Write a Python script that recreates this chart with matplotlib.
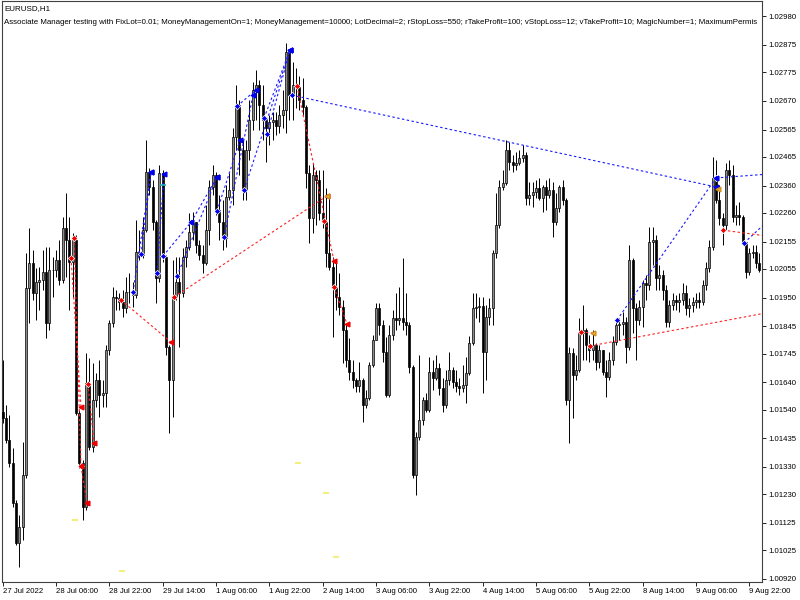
import matplotlib
matplotlib.use("Agg")
import matplotlib.pyplot as plt
import numpy as np

plt.rcParams['font.family'] = ['Liberation Sans', 'DejaVu Sans']

# EURUSD H1 candles, 27 Jul 14:00 .. 10 Aug 2022 (one value per hourly bar)
first_open = 1.01531
close = [
    1.01509, 1.01429, 1.01344, 1.01198, 1.01052, 1.01110, 1.01300, 1.01985, 1.02076, 1.01967,
    1.02007, 1.02014, 1.02043, 1.01857, 1.02051, 1.02051, 1.02087, 1.02014, 1.02205, 1.02161,
    1.02080, 1.02161, 1.01527, 1.01344, 1.01183, 1.01637, 1.01403, 1.01575, 1.01648, 1.01593,
    1.01601, 1.01758, 1.01857, 1.01952, 1.01948, 1.01934, 1.01912, 1.01970, 1.01970, 1.01959,
    1.02117, 1.02106, 1.02197, 1.02409, 1.02355, 1.02226, 1.02022, 1.02406, 1.02098, 1.01769,
    1.01648, 1.01952, 1.02007, 1.01967, 1.02098, 1.02135, 1.02190, 1.02226, 1.02142, 1.02106,
    1.02076, 1.02197, 1.02355, 1.02398, 1.02270, 1.02226, 1.02168, 1.02318, 1.02344, 1.02538,
    1.02655, 1.02490, 1.02344, 1.02490, 1.02600, 1.02710, 1.02728, 1.02655, 1.02600, 1.02571,
    1.02592, 1.02600, 1.02578, 1.02618, 1.02636, 1.02849, 1.02691, 1.02728, 1.02721, 1.02673,
    1.02647, 1.02406, 1.02241, 1.02398, 1.02380, 1.02259, 1.02226, 1.02113, 1.02062, 1.01989,
    1.01952, 1.01915, 1.01831, 1.01721, 1.01677, 1.01648, 1.01626, 1.01648, 1.01557, 1.01582,
    1.01703, 1.01795, 1.01912, 1.01849, 1.01751, 1.01593, 1.01813, 1.01875, 1.01868, 1.01875,
    1.01860, 1.01849, 1.01696, 1.01300, 1.01440, 1.01502, 1.01575, 1.01538, 1.01677, 1.01656,
    1.01692, 1.01619, 1.01557, 1.01648, 1.01685, 1.01641, 1.01626, 1.01619, 1.01630, 1.01674,
    1.01784, 1.01912, 1.01915, 1.01919, 1.01751, 1.01879, 1.01912, 1.02113, 1.02215, 1.02355,
    1.02369, 1.02490, 1.02446, 1.02435, 1.02442, 1.02461, 1.02472, 1.02314, 1.02325, 1.02336,
    1.02351, 1.02314, 1.02355, 1.02325, 1.02344, 1.02226, 1.02278, 1.02355, 1.02307, 1.01575,
    1.01747, 1.01666, 1.01685, 1.01820, 1.01831, 1.01776, 1.01758, 1.01776, 1.01714, 1.01758,
    1.01677, 1.01659, 1.01721, 1.01787, 1.01849, 1.01853, 1.01860, 1.01769, 1.02087, 1.01912,
    1.01868, 1.01915, 1.02003, 1.01996, 1.02153, 1.02161, 1.02022, 1.02032, 1.01978, 1.01860,
    1.01923, 1.01941, 1.01934, 1.01941, 1.01967, 1.01912, 1.01923, 1.01934, 1.01941, 1.01934,
    1.01996, 1.02058, 1.02135, 1.02388, 1.02307, 1.02241, 1.02215, 1.02417, 1.02398, 1.02245,
    1.02252, 1.02245, 1.02153, 1.02043, 1.02113, 1.02117, 1.02076, 1.02051,
]
high = [
    1.01721, 1.01557, 1.01520, 1.01399, 1.01209, 1.01154, 1.01421, 1.02113, 1.02205, 1.02124,
    1.02058, 1.02062, 1.02124, 1.02135, 1.02135, 1.02098, 1.02124, 1.02161, 1.02245, 1.02333,
    1.02245, 1.02186, 1.02179, 1.01538, 1.01355, 1.01747, 1.01729, 1.01710, 1.01674, 1.01721,
    1.01648, 1.01776, 1.01868, 1.01989, 1.01978, 1.01967, 1.01978, 1.02025, 1.02040, 1.02007,
    1.02234, 1.02197, 1.02245, 1.02527, 1.02424, 1.02380, 1.02234, 1.02435, 1.02417, 1.02106,
    1.01776, 1.02087, 1.02098, 1.02098, 1.02131, 1.02161, 1.02259, 1.02263, 1.02215, 1.02161,
    1.02142, 1.02289, 1.02380, 1.02435, 1.02409, 1.02325, 1.02307, 1.02362, 1.02406, 1.02571,
    1.02728, 1.02673, 1.02527, 1.02527, 1.02673, 1.02739, 1.02783, 1.02746, 1.02728, 1.02607,
    1.02618, 1.02629, 1.02629, 1.02655, 1.02710, 1.02882, 1.02856, 1.02812, 1.02790, 1.02761,
    1.02754, 1.02655, 1.02435, 1.02442, 1.02417, 1.02417, 1.02417, 1.02351, 1.02325, 1.02098,
    1.02087, 1.02040, 1.01941, 1.01857, 1.01802, 1.01721, 1.01656, 1.01714, 1.01656, 1.01612,
    1.01714, 1.01813, 1.01930, 1.01930, 1.01868, 1.01806, 1.01849, 1.01904, 1.01967, 1.01989,
    1.02095, 1.01967, 1.01860, 1.01703, 1.01458, 1.01740, 1.01586, 1.01601, 1.01732, 1.01721,
    1.01740, 1.01710, 1.01656, 1.01685, 1.01751, 1.01696, 1.01685, 1.01656, 1.01703, 1.01732,
    1.01809, 1.01967, 1.01967, 1.01952, 1.01952, 1.01923, 1.01948, 1.02124, 1.02333, 1.02380,
    1.02417, 1.02527, 1.02519, 1.02472, 1.02483, 1.02490, 1.02508, 1.02483, 1.02373, 1.02373,
    1.02380, 1.02388, 1.02362, 1.02380, 1.02388, 1.02373, 1.02333, 1.02362, 1.02380, 1.02314,
    1.01769, 1.01765, 1.01740, 1.01875, 1.01923, 1.01839, 1.01813, 1.01831, 1.01784, 1.01776,
    1.01758, 1.01721, 1.01751, 1.01809, 1.01875, 1.01875, 1.01897, 1.01879, 1.02142, 1.02095,
    1.01930, 1.01941, 1.02014, 1.02032, 1.02208, 1.02208, 1.02179, 1.02069, 1.02051, 1.01996,
    1.01941, 1.01967, 1.01959, 1.01967, 1.02003, 1.01996, 1.01948, 1.01952, 1.01967, 1.01970,
    1.02014, 1.02080, 1.02161, 1.02464, 1.02453, 1.02362, 1.02259, 1.02442, 1.02453, 1.02435,
    1.02289, 1.02300, 1.02252, 1.02153, 1.02131, 1.02142, 1.02142, 1.02113,
]
low = [
    1.01491, 1.01418, 1.01330, 1.01183, 1.01044, 1.00964, 1.01063, 1.01290, 1.01857, 1.01941,
    1.01868, 1.01904, 1.01978, 1.01802, 1.01831, 1.01952, 1.02025, 1.01996, 1.02003, 1.02025,
    1.01904, 1.01952, 1.01520, 1.01326, 1.01136, 1.01172, 1.01392, 1.01385, 1.01549, 1.01513,
    1.01549, 1.01549, 1.01740, 1.01842, 1.01904, 1.01904, 1.01879, 1.01893, 1.01930, 1.01915,
    1.01948, 1.02087, 1.02095, 1.02190, 1.02325, 1.02197, 1.01930, 1.02007, 1.02080, 1.01740,
    1.01454, 1.01513, 1.01941, 1.01769, 1.01952, 1.02062, 1.02124, 1.02161, 1.02113, 1.02087,
    1.02040, 1.02069, 1.02142, 1.02325, 1.02252, 1.02161, 1.02124, 1.02135, 1.02307, 1.02289,
    1.02490, 1.02398, 1.02307, 1.02307, 1.02453, 1.02563, 1.02600, 1.02563, 1.02527, 1.02446,
    1.02508, 1.02527, 1.02545, 1.02552, 1.02571, 1.02552, 1.02600, 1.02600, 1.02644, 1.02636,
    1.02618, 1.02351, 1.02150, 1.02186, 1.02215, 1.02234, 1.02205, 1.02062, 1.02051, 1.01806,
    1.01904, 1.01886, 1.01710, 1.01696, 1.01648, 1.01619, 1.01604, 1.01604, 1.01494, 1.01546,
    1.01575, 1.01696, 1.01795, 1.01813, 1.01714, 1.01586, 1.01586, 1.01795, 1.01831, 1.01849,
    1.01831, 1.01813, 1.01674, 1.01290, 1.01227, 1.01429, 1.01483, 1.01531, 1.01531, 1.01612,
    1.01648, 1.01593, 1.01531, 1.01546, 1.01630, 1.01619, 1.01604, 1.01593, 1.01604, 1.01564,
    1.01666, 1.01776, 1.01875, 1.01860, 1.01601, 1.01648, 1.01849, 1.01849, 1.02095, 1.02205,
    1.02344, 1.02362, 1.02417, 1.02409, 1.02417, 1.02435, 1.02446, 1.02289, 1.02289, 1.02281,
    1.02314, 1.02307, 1.02263, 1.02270, 1.02314, 1.02172, 1.02215, 1.02263, 1.02289, 1.01557,
    1.01418, 1.01509, 1.01648, 1.01677, 1.01721, 1.01721, 1.01714, 1.01721, 1.01685, 1.01692,
    1.01666, 1.01586, 1.01648, 1.01703, 1.01776, 1.01795, 1.01813, 1.01710, 1.01758, 1.01820,
    1.01721, 1.01849, 1.01842, 1.01941, 1.01978, 1.02069, 1.01978, 1.01978, 1.01941, 1.01842,
    1.01842, 1.01904, 1.01904, 1.01897, 1.01923, 1.01886, 1.01879, 1.01897, 1.01912, 1.01912,
    1.01923, 1.01978, 1.02043, 1.02124, 1.02296, 1.02215, 1.02142, 1.02197, 1.02362, 1.02226,
    1.02215, 1.02215, 1.02142, 1.02022, 1.02032, 1.02095, 1.02058, 1.02043,
]

tick_bars = [0, 16, 32, 48, 64, 80, 96, 112, 128, 144, 160, 176, 192, 208, 224]
tick_dates = ['27 Jul 2022', '28 Jul 06:00', '28 Jul 22:00', '29 Jul 14:00', '1 Aug 06:00',
              '1 Aug 22:00', '2 Aug 14:00', '3 Aug 06:00', '3 Aug 22:00', '4 Aug 14:00',
              '5 Aug 06:00', '5 Aug 22:00', '8 Aug 14:00', '9 Aug 06:00', '9 Aug 22:00']
price_ticks = ['1.02980', '1.02875', '1.02775', '1.02670', '1.02565', '1.02465', '1.02360',
               '1.02260', '1.02155', '1.02055', '1.01950', '1.01845', '1.01745', '1.01640',
               '1.01540', '1.01435', '1.01330', '1.01230', '1.01125', '1.01025', '1.00920']

# buy trades (blue): open bar/price -> close bar/price
buy_x0 = [39.1, 41.5, 46.3, 48.1, 52.3, 56.5, 64.3, 66.4, 72.4, 78.4, 79.3, 70.3, 86.8, 184.3]
buy_y0 = [1.01970, 1.02109, 1.02040, 1.02102, 1.02029, 1.02226, 1.02267, 1.02172, 1.02344,
          1.02607, 1.02549, 1.02651, 1.02691, 1.01868]
buy_x1 = [44.5, 44.5, 48.4, 56.5, 64.3, 64.3, 71.2, 75.1, 86.2, 86.2, 86.2, 76.0, 214.0, 214.0]
buy_y1 = [1.02409, 1.02409, 1.02402, 1.02226, 1.02391, 1.02391, 1.02527, 1.02691, 1.02856,
          1.02856, 1.02856, 1.02710, 1.02355, 1.02388]
# buy positions still open (run to the right edge)
buy_open_x = [214.0, 222.4]
buy_open_y = [1.02388, 1.02150]
buy_edge_y = [1.02402, 1.02230]

# sell trades (red)
sell_x0 = [21.4, 20.5, 25.6, 23.5, 35.5, 51.4, 88.3, 99.4, 173.5]
sell_y0 = [1.02168, 1.02095, 1.01634, 1.01333, 1.01941, 1.01952, 1.02724, 1.01989, 1.01824]
sell_x1 = [23.5, 23.5, 27.4, 25.3, 50.5, 97.3, 99.4, 103.3, 177.1]
sell_y1 = [1.01333, 1.01549, 1.01418, 1.01198, 1.01787, 1.02322, 1.02084, 1.01853, 1.01820]
sell_open_x = [176.2, 216.1]
sell_open_y = [1.01773, 1.02197]
sell_edge_y = [1.01895, 1.02175]
sell_extra_x = [96.4]
sell_extra_y = [1.02230]

# closing marks and pending-level dashes
gold_x = [97.3, 177.1, 214.6]
gold_y = [1.02322, 1.01820, 1.02347]
teal_x = [48.1]
teal_y = [1.02362]
level_x = [21.7, 35.8, 88.6, 97.0, 100.0]
level_y = [1.01136, 1.00949, 1.01344, 1.01235, 1.01000]

opens = np.array([first_open] + close[:-1])
c = np.array(close)
h = np.maximum(np.array(high), np.maximum(opens, c))
l = np.minimum(np.array(low), np.minimum(opens, c))
x = np.arange(len(c))
up = c >= opens

fig = plt.figure(figsize=(8, 6), dpi=100)
ax = fig.add_axes([0.0025, 0.03, 0.95, 0.968])

ax.vlines(x, l, h, color='black', lw=0.7, zorder=2)
body = np.maximum(np.abs(c - opens), 0.00001)
ax.bar(x, body, bottom=np.minimum(opens, c), width=0.62,
       color=np.where(up, '#8c8c8c', 'black'), edgecolor='black', linewidth=0.5, zorder=3)

dash = (0, (2.2, 2.2))
blue = '#1a1aff'
red = '#ff2020'
edge_x = 229.5
for i in range(len(buy_x0)):
    ax.plot([buy_x0[i], buy_x1[i]], [buy_y0[i], buy_y1[i]], color=blue, ls=dash, lw=0.8, zorder=4)
for i in range(len(buy_open_x)):
    ax.plot([buy_open_x[i], edge_x], [buy_open_y[i], buy_edge_y[i]], color=blue, ls=dash, lw=0.8, zorder=4)
for i in range(len(sell_x0)):
    ax.plot([sell_x0[i], sell_x1[i]], [sell_y0[i], sell_y1[i]], color=red, ls=dash, lw=0.8, zorder=4)
for i in range(len(sell_open_x)):
    ax.plot([sell_open_x[i], edge_x], [sell_open_y[i], sell_edge_y[i]], color=red, ls=dash, lw=0.8, zorder=4)

ax.plot(buy_x0 + buy_open_x, buy_y0 + buy_open_y, 'D', ms=3.2, mfc='#0000ee', mec='white', mew=0.5, ls='none', zorder=6)
ax.plot(buy_x1, buy_y1, '<', ms=3.4, mfc='#0000ee', mec='#0000ee', ls='none', zorder=6)
ax.plot(sell_x0 + sell_open_x + sell_extra_x, sell_y0 + sell_open_y + sell_extra_y, 'D', ms=3.2,
        mfc='#ee0000', mec='white', mew=0.5, ls='none', zorder=6)
ax.plot(sell_x1[:-1], sell_y1[:-1], '<', ms=3.4, mfc='#ee0000', mec='#ee0000', ls='none', zorder=6)
ax.plot(gold_x, gold_y, '<', ms=3.4, mfc='#f0b030', mec='#d09020', ls='none', zorder=7)
ax.plot(teal_x, teal_y, '_', ms=5, mec='#20b0c0', mew=1.2, ls='none', zorder=7)
ax.plot(level_x, level_y, '_', ms=5, mec='#f2ee80', mew=1.5, ls='none', zorder=1)

ax.set_xlim(-0.21, 227.8)
ax.set_ylim(1.00909, 1.03035)

ax.set_xticks(tick_bars)
ax.set_xticklabels(tick_dates, fontsize=5.6, ha='left')
ax.set_yticks([float(t) for t in price_ticks])
ax.set_yticklabels(price_ticks, fontsize=5.6)
ax.yaxis.tick_right()
ax.tick_params(axis='both', direction='out', length=3, width=0.6, color='black', pad=1.5)
for s in ax.spines.values():
    s.set_color('#404040')
    s.set_linewidth(0.8)

ax.text(0.0026, 0.988, 'EURUSD,H1', transform=ax.transAxes, fontsize=5.8, va='center', ha='left')
ax.text(0.0026, 0.964,
        'Associate Manager testing with FixLot=0.01; MoneyManagementOn=1; MoneyManagement=10000; '
        'LotDecimal=2; rStopLoss=550; rTakeProfit=100; vStopLoss=12; vTakeProfit=10; '
        'MagicNumber=1; MaximumPermis',
        transform=ax.transAxes, fontsize=5.7, va='center', ha='left')

fig.savefig('out.png', dpi=100)
